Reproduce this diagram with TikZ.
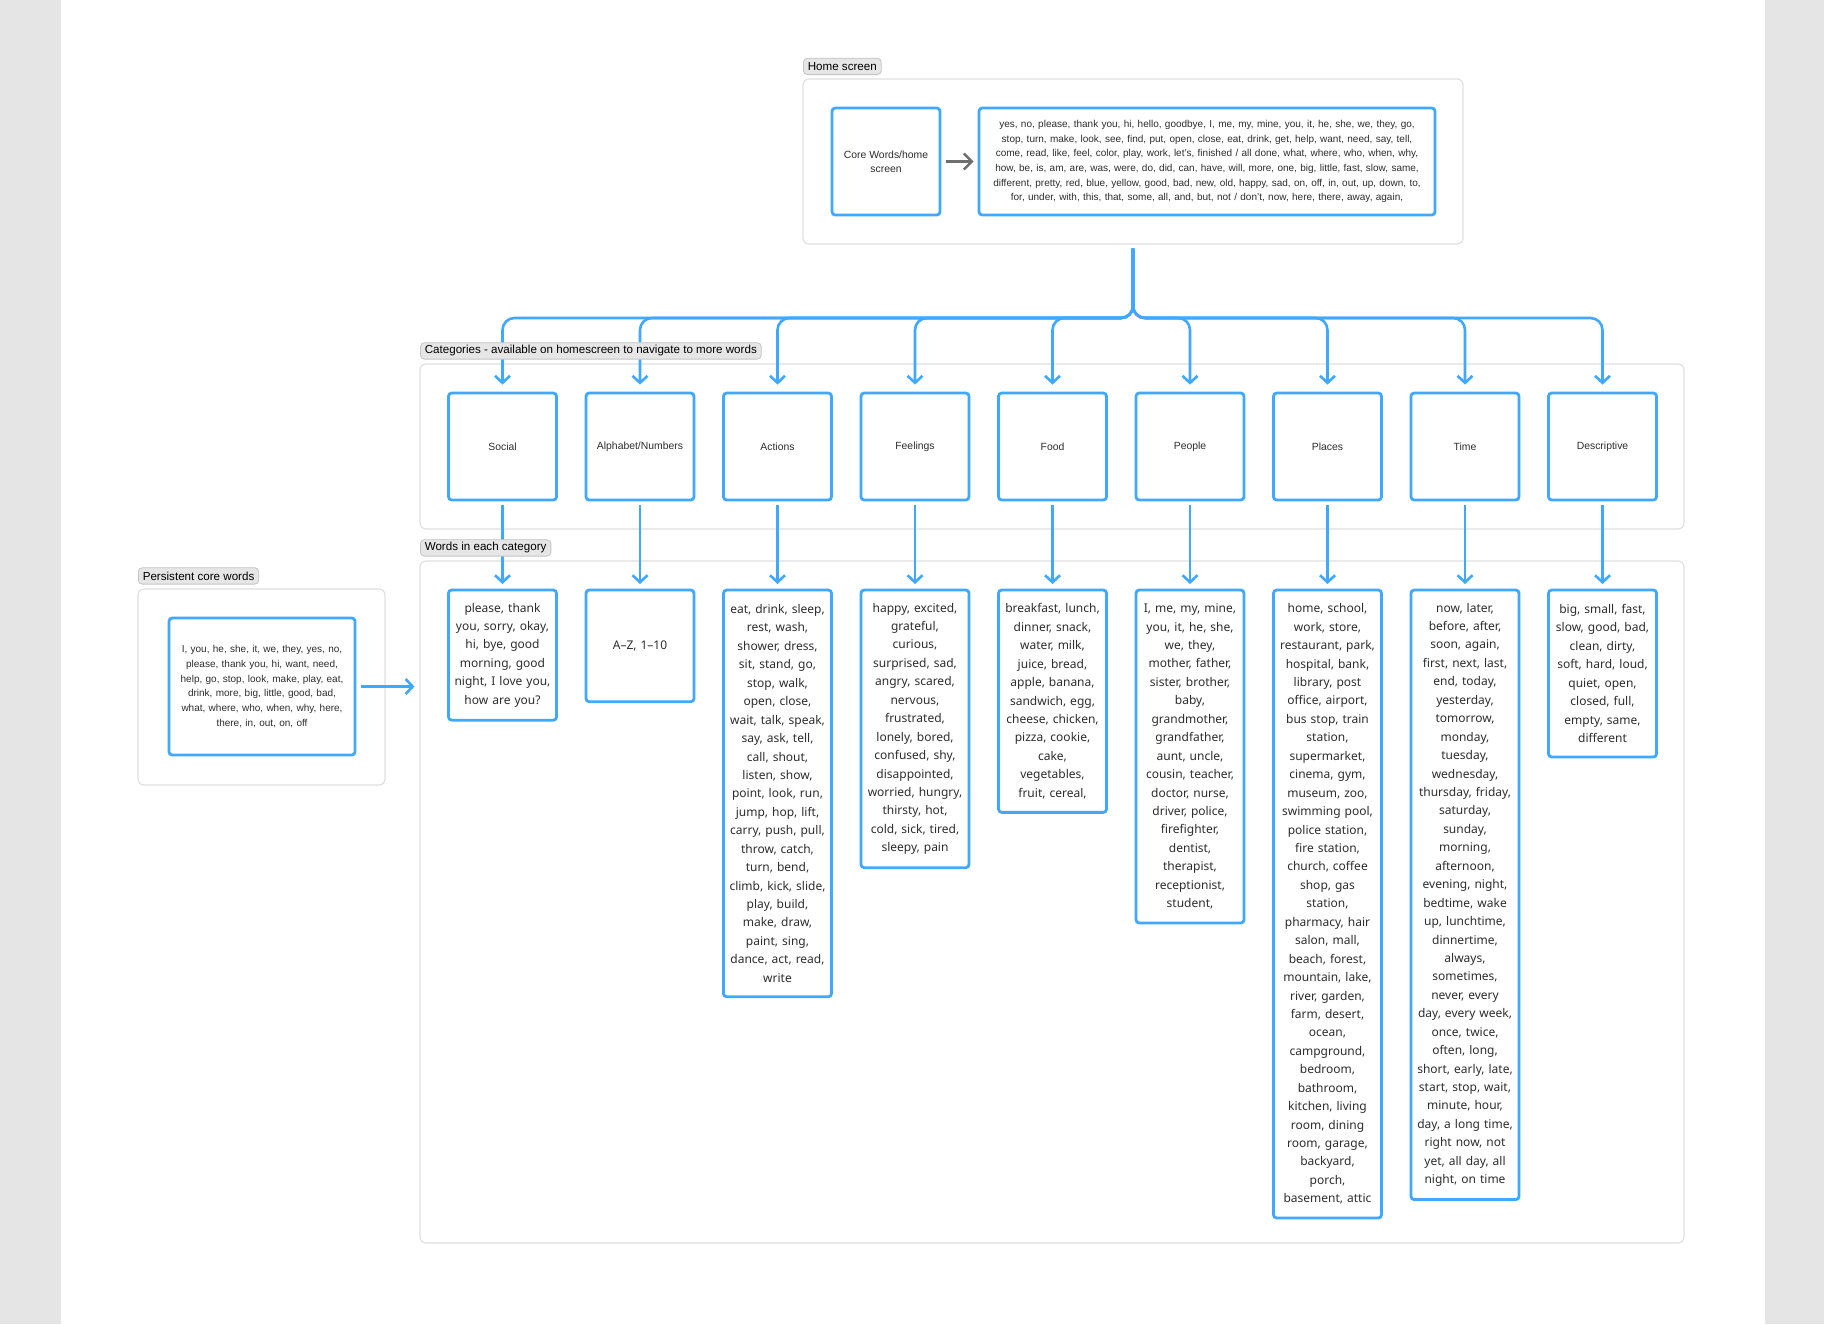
\documentclass[tikz,border=0pt]{standalone}
\usepackage{fontspec}
\setmainfont{Liberation Sans}
\newfontfamily\wordfont{Noto Sans}
\usetikzlibrary{arrows.meta}
\definecolor{fblue}{RGB}{64,169,255}
\definecolor{stripe}{RGB}{229,229,229}
\definecolor{cborder}{RGB}{224,224,224}
\definecolor{tagfill}{RGB}{230,230,230}
\definecolor{tagdraw}{RGB}{196,196,196}
\definecolor{txt}{RGB}{45,45,45}
\definecolor{garrow}{RGB}{110,110,110}
\tikzset{
  container/.style={draw=cborder, line width=0.6pt, rounded corners=3pt, fill=white, inner sep=0pt},
  tagbox/.style={draw=tagdraw, fill=tagfill, line width=0.4pt, rounded corners=2pt,
    font=\fontsize{5.8}{7}\selectfont, text=black, inner xsep=2.2pt, inner ysep=0pt,
    minimum height=8.2pt, anchor=south west},
  bluebox/.style={draw=fblue, line width=1.4pt, rounded corners=1.6pt, fill=white,
    align=center, text=txt, inner sep=1pt},
  catbox/.style={bluebox, minimum width=54pt, minimum height=53.5pt,
    font=\fontsize{5.2}{7}\selectfont},
  wordbox/.style={bluebox, anchor=north, text width=52pt,
    minimum height={#1*9.22pt+9.75pt},
    font=\wordfont\fontsize{6}{9.22}\selectfont},
  conn/.style={draw=fblue, line width=1.3pt, rounded corners=6pt,
    -{Straight Barb[length=3.5pt,width=7.5pt]}},
  greyconn/.style={draw=garrow, line width=1.2pt,
    -{Straight Barb[length=4pt,width=8pt]}},
}
\begin{document}
\begin{tikzpicture}[x=0.5pt,y=-0.5pt]
\path[use as bounding box, fill=white] (0,0) rectangle (1824,1324);
\fill[stripe] (0,0) rectangle (60.5,1324);
\fill[stripe] (1764.7,0) rectangle (1824,1324);

% containers
\node[container, minimum width=330pt, minimum height=82.5pt] (home) at (1133,161.5) {};
\node[container, minimum width=632pt, minimum height=82.5pt] (cats) at (1052,446.5) {};
\node[container, minimum width=632pt, minimum height=341pt] (words) at (1052,902) {};
\node[container, minimum width=123.5pt, minimum height=98pt] (pers) at (261.5,687) {};

% home screen
\node[bluebox, minimum width=54pt, minimum height=53.5pt, font=\fontsize{5.2}{7}\selectfont] (core) at (886,161.5) {Core Words/home\\screen};
\node[bluebox, text width=226pt, minimum height=53.5pt, font=\fontsize{5}{7.35}\selectfont] (list) at (1207,161.5)
{yes, no, please, thank you, hi, hello, goodbye, I, me, my, mine, you, it, he, she, we, they, go,\\
stop, turn, make, look, see, find, put, open, close, eat, drink, get, help, want, need, say, tell,\\
come, read, like, feel, color, play, work, let's, finished / all done, what, where, who, when, why,\\
how, be, is, am, are, was, were, do, did, can, have, will, more, one, big, little, fast, slow, same,\\
different, pretty, red, blue, yellow, good, bad, new, old, happy, sad, on, off, in, out, up, down, to,\\
for, under, with, this, that, some, all, and, but, not / don't, now, here, there, away, again,};

% persistent
\node[bluebox, text width=91pt, minimum height=68.5pt, font=\fontsize{5}{7.35}\selectfont] (pbox) at (262,686.5)
{I, you, he, she, it, we, they, yes, no,\\
please, thank you, hi, want, need,\\
help, go, stop, look, make, play, eat,\\
drink, more, big, little, good, bad,\\
what, where, who, when, why, here,\\
there, in, out, on, off};

% categories
\node[catbox] (c1) at (502.5,446.5) {Social};
\node[catbox] (c2) at (640,446.5) {Alphabet/Numbers};
\node[catbox] (c3) at (777.5,446.5) {Actions};
\node[catbox] (c4) at (915,446.5) {Feelings};
\node[catbox] (c5) at (1052.5,446.5) {Food};
\node[catbox] (c6) at (1190,446.5) {People};
\node[catbox] (c7) at (1327.5,446.5) {Places};
\node[catbox] (c8) at (1465,446.5) {Time};
\node[catbox] (c9) at (1602.5,446.5) {Descriptive};

% word boxes
\node[wordbox=6] (w1) at (502.5,588.6) {please, thank\\you, sorry, okay,\\hi, bye, good\\morning, good\\night, I love you,\\how are you?};
\node[wordbox=5] (w2) at (640,588.6) {A–Z, 1–10};
\node[wordbox=21] (w3) at (777.5,588.6) {eat, drink, sleep,\\rest, wash,\\shower, dress,\\sit, stand, go,\\stop, walk,\\open, close,\\wait, talk, speak,\\say, ask, tell,\\call, shout,\\listen, show,\\point, look, run,\\jump, hop, lift,\\carry, push, pull,\\throw, catch,\\turn, bend,\\climb, kick, slide,\\play, build,\\make, draw,\\paint, sing,\\dance, act, read,\\write};
\node[wordbox=14] (w4) at (915,588.6) {happy, excited,\\grateful,\\curious,\\surprised, sad,\\angry, scared,\\nervous,\\frustrated,\\lonely, bored,\\confused, shy,\\disappointed,\\worried, hungry,\\thirsty, hot,\\cold, sick, tired,\\sleepy, pain};
\node[wordbox=11] (w5) at (1052.5,588.6) {breakfast, lunch,\\dinner, snack,\\water, milk,\\juice, bread,\\apple, banana,\\sandwich, egg,\\cheese, chicken,\\pizza, cookie,\\cake,\\vegetables,\\fruit, cereal,};
\node[wordbox=17] (w6) at (1190,588.6) {I, me, my, mine,\\you, it, he, she,\\we, they,\\mother, father,\\sister, brother,\\baby,\\grandmother,\\grandfather,\\aunt, uncle,\\cousin, teacher,\\doctor, nurse,\\driver, police,\\firefighter,\\dentist,\\therapist,\\receptionist,\\student,};
\node[wordbox=33] (w7) at (1327.5,588.6) {home, school,\\work, store,\\restaurant, park,\\hospital, bank,\\library, post\\office, airport,\\bus stop, train\\station,\\supermarket,\\cinema, gym,\\museum, zoo,\\swimming pool,\\police station,\\fire station,\\church, coffee\\shop, gas\\station,\\pharmacy, hair\\salon, mall,\\beach, forest,\\mountain, lake,\\river, garden,\\farm, desert,\\ocean,\\campground,\\bedroom,\\bathroom,\\kitchen, living\\room, dining\\room, garage,\\backyard,\\porch,\\basement, attic};
\node[wordbox=32] (w8) at (1465,588.6) {now, later,\\before, after,\\soon, again,\\first, next, last,\\end, today,\\yesterday,\\tomorrow,\\monday,\\tuesday,\\wednesday,\\thursday, friday,\\saturday,\\sunday,\\morning,\\afternoon,\\evening, night,\\bedtime, wake\\up, lunchtime,\\dinnertime,\\always,\\sometimes,\\never, every\\day, every week,\\once, twice,\\often, long,\\short, early, late,\\start, stop, wait,\\minute, hour,\\day, a long time,\\right now, not\\yet, all day, all\\night, on time};
\node[wordbox=8] (w9) at (1602.5,588.6) {big, small, fast,\\slow, good, bad,\\clean, dirty,\\soft, hard, loud,\\quiet, open,\\closed, full,\\empty, same,\\different};

% connectors
\draw[greyconn, shorten <=2.5pt, shorten >=2pt] (core.east) -- (list.west);
\coordinate (split) at (1133,318);
\foreach \i in {1,...,9}{
  \draw[conn, shorten <=2pt, shorten >=3.5pt] (home.south) -- (split) -| (c\i.north);
  \draw[conn, shorten <=2pt, shorten >=2.3pt] (c\i.south) -- (w\i.north);
}
\draw[conn, shorten <=2.5pt, shorten >=2.5pt] (pbox.east) -- (pbox.east -| words.west);

% tags (on top of connectors)
\node[tagbox] (thome) at (803,75) {Home screen};
\node[tagbox] (tcats) at (420,359.5) {Categories - available on homescreen to navigate to more words};
\node[tagbox] (twords) at (420,556.5) {Words in each category};
\node[tagbox] (tpers) at (138,584.5) {Persistent core words};
\end{tikzpicture}
\end{document}
